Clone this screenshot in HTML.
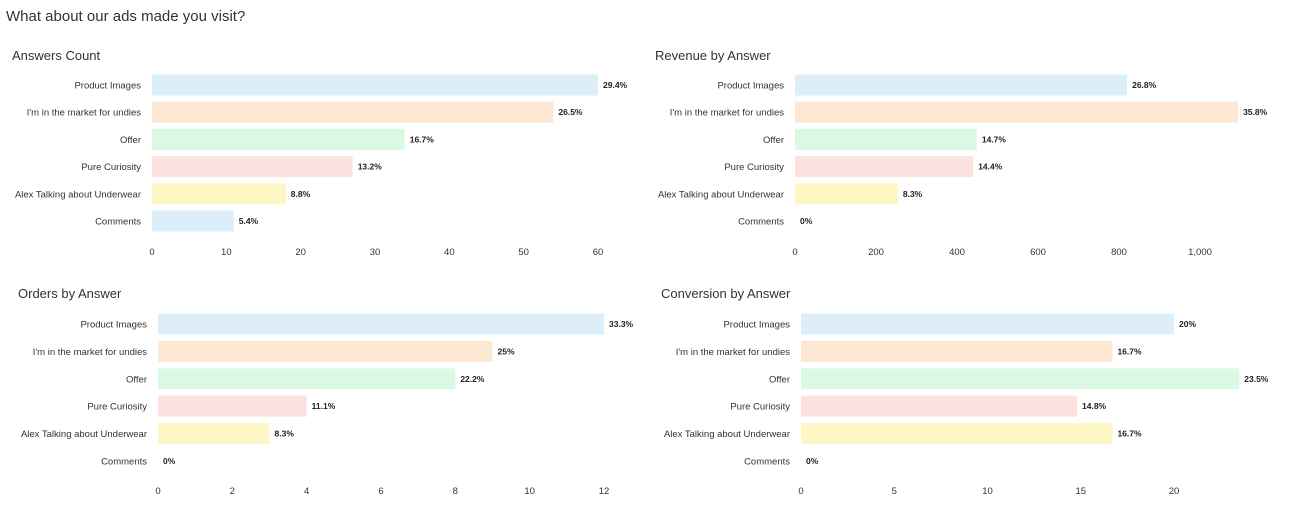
<!DOCTYPE html>
<html><head><meta charset="utf-8"><style>
body{margin:0;background:#fff;width:1292px;height:522px;overflow:hidden;font-family:"Liberation Sans",sans-serif;}
svg text{font-family:"Liberation Sans",sans-serif;}
</style></head><body>
<svg id="s" width="1292" height="522">
<text x="6" y="21" font-size="15" fill="#333">What about our ads made you visit?</text>
</svg>
<script>
const categories=["Product Images","I'm in the market for undies","Offer","Pure Curiosity","Alex Talking about Underwear","Comments"];
const colors=["#ddeefb","#fde9d3","#dbf8e5","#fde1e1","#fdf7c6","#ddeefb"];
const countValues=[60,54,34,27,18,11];
const revenueValues=[820,1094,449,440,254,0];
const orderValues=[12,9,8,4,3,0];
const conversionValues=[20,16.7,23.5,14.8,16.7,0];
const countTicks=[0,10,20,30,40,50,60];
const revenueTicks=[0,200,400,600,800,1000];
const orderTicks=[0,2,4,6,8,10,12];
const conversionTicks=[0,5,10,15,20];
const NS="http://www.w3.org/2000/svg";
const svg=document.getElementById('s');
function mk(tag,attrs,parent){const e=document.createElementNS(NS,tag);for(const k in attrs)e.setAttribute(k,attrs[k]);(parent||svg).appendChild(e);return e;}
function fmt(v){return (Math.round(v*10)/10).toLocaleString('en-US')+'%';}
function chart(cfg){
  const g=mk('g',{});
  
  
  const t=mk('text',{x:cfg.tx,y:cfg.ty,'font-size':13,fill:'#333'},g);t.textContent=cfg.title;
  
  
  const maxT=cfg.ticks[cfg.ticks.length-1];
  const sx=v=>cfg.x0+(v/maxT)*(cfg.x1-cfg.x0);
  const total=cfg.values.reduce((a,b)=>a+b,0);
  cfg.values.forEach((v,i)=>{
    const cy=cfg.y0+i*cfg.step;
    const l=mk('text',{x:cfg.x0-11,y:cy+3.5,'font-size':9.5,fill:'#333','text-anchor':'end'},g);l.textContent=categories[i];
    
    
    const w=sx(v)-cfg.x0;
    const r=mk('rect',{x:cfg.x0,y:cy-10.5,width:Math.max(w,0),height:21,fill:colors[i]},g);
    
    
    const lab=cfg.pct?fmt(total?v/total*100:0):fmt(v);
    const vt=mk('text',{x:sx(v)+5,y:cy+3,'font-size':8.5,'font-weight':'bold',fill:'#222'},g);vt.textContent=lab;
    
    
  });
  cfg.ticks.forEach(tk=>{
    const tt=mk('text',{x:sx(tk),y:cfg.axisY,'font-size':9.5,fill:'#333','text-anchor':'middle'},g);tt.textContent=tk.toLocaleString('en-US');
    
    
  });
}
chart({name:'answers-count-chart',title:'Answers Count',tx:12,ty:60,x0:152,x1:598,y0:85,step:27.2,axisY:255,values:countValues,ticks:countTicks,pct:true});
chart({name:'revenue-chart',title:'Revenue by Answer',tx:655,ty:60,x0:795,x1:1200,y0:85,step:27.2,axisY:255,values:revenueValues,ticks:revenueTicks,pct:true});
chart({name:'orders-chart',title:'Orders by Answer',tx:18,ty:298,x0:158,x1:604,y0:324,step:27.4,axisY:494,values:orderValues,ticks:orderTicks,pct:true});
chart({name:'conversion-chart',title:'Conversion by Answer',tx:661,ty:298,x0:801,x1:1174,y0:324,step:27.4,axisY:494,values:conversionValues,ticks:conversionTicks,pct:false});
</script>
</body></html>
